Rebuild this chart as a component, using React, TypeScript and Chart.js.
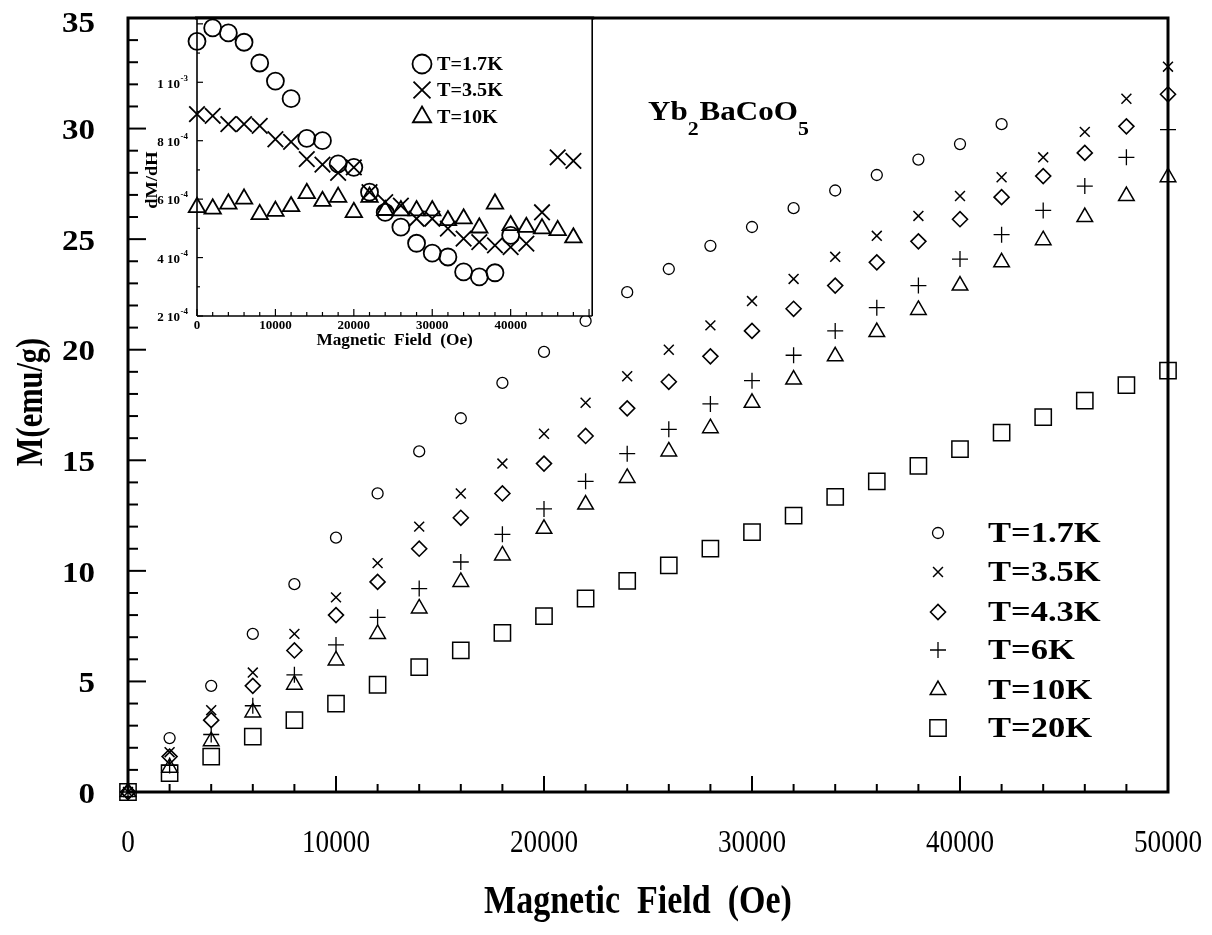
import React, { useEffect, useRef } from "react";
import { Chart, registerables } from "chart.js";
import { drawPoint } from "chart.js/helpers";

Chart.register(...registerables);

// ---------------- main plot data ----------------
const FIELD = [0, 2000, 4000, 6000, 8000, 10000, 12000, 14000, 16000, 18000, 20000, 22000, 24000, 26000, 28000, 30000, 32000, 34000, 36000, 38000, 40000, 42000, 44000, 46000, 48000, 50000];

const M_1_7K = [0, 2.44, 4.8, 7.15, 9.4, 11.5, 13.5, 15.4, 16.9, 18.5, 19.9, 21.3, 22.6, 23.65, 24.7, 25.55, 26.4, 27.2, 27.9, 28.6, 29.3, 30.2];
const M_3_5K = [0, 1.8, 3.7, 5.4, 7.15, 8.8, 10.35, 12.0, 13.5, 14.85, 16.2, 17.6, 18.8, 20.0, 21.1, 22.2, 23.2, 24.2, 25.15, 26.05, 26.95, 27.8, 28.7, 29.85, 31.35, 32.8];
const M_4_3K = [0, 1.6, 3.25, 4.8, 6.4, 8.0, 9.5, 11.0, 12.4, 13.5, 14.85, 16.1, 17.35, 18.55, 19.7, 20.85, 21.85, 22.9, 23.95, 24.9, 25.9, 26.9, 27.85, 28.9, 30.1, 31.55];
const M_6K = [0, 1.2, 2.6, 3.9, 5.3, 6.65, 7.9, 9.2, 10.4, 11.65, 12.8, 14.05, 15.3, 16.4, 17.55, 18.6, 19.75, 20.85, 21.9, 22.9, 24.1, 25.2, 26.3, 27.4, 28.7, 29.95];
const M_10K = [0, 1.1, 2.3, 3.6, 4.85, 5.95, 7.15, 8.3, 9.5, 10.7, 11.9, 13.0, 14.2, 15.4, 16.45, 17.6, 18.65, 19.7, 20.8, 21.8, 22.9, 23.95, 24.95, 26.0, 26.95, 27.8];
const M_20K = [0, 0.85, 1.6, 2.5, 3.25, 4.0, 4.85, 5.65, 6.4, 7.2, 7.95, 8.75, 9.55, 10.25, 11.0, 11.75, 12.5, 13.35, 14.05, 14.75, 15.5, 16.25, 16.95, 17.7, 18.4, 19.05];

const MAIN_LABELS = ["T=1.7K", "T=3.5K", "T=4.3K", "T=6K", "T=10K", "T=20K"];
const MAIN_X_TICKS = [0, 10000, 20000, 30000, 40000, 50000];
const MAIN_Y_TICKS = [0, 5, 10, 15, 20, 25, 30, 35];

// ---------------- inset data ----------------
const INSET_FIELD = [0, 2000, 4000, 6000, 8000, 10000, 12000, 14000, 16000, 18000, 20000, 22000, 24000, 26000, 28000, 30000, 32000, 34000, 36000, 38000, 40000, 42000, 44000, 46000, 48000];

const DMDH_1_7K = [1.14e-3, 1.186e-3, 1.169e-3, 1.137e-3, 1.066e-3, 1.004e-3, 0.944e-3, 0.808e-3, 0.8e-3, 0.721e-3, 0.709e-3, 0.624e-3, 0.555e-3, 0.504e-3, 0.449e-3, 0.415e-3, 0.402e-3, 0.351e-3, 0.334e-3, 0.348e-3, 0.476e-3];
const DMDH_3_5K = [0.891e-3, 0.885e-3, 0.857e-3, 0.857e-3, 0.851e-3, 0.805e-3, 0.796e-3, 0.737e-3, 0.718e-3, 0.69e-3, 0.709e-3, 0.624e-3, 0.59e-3, 0.578e-3, 0.533e-3, 0.533e-3, 0.499e-3, 0.465e-3, 0.453e-3, 0.442e-3, 0.436e-3, 0.448e-3, 0.555e-3, 0.743e-3, 0.731e-3];
const DMDH_10K = [0.572e-3, 0.567e-3, 0.584e-3, 0.601e-3, 0.548e-3, 0.559e-3, 0.575e-3, 0.62e-3, 0.593e-3, 0.607e-3, 0.555e-3, 0.607e-3, 0.562e-3, 0.561e-3, 0.561e-3, 0.561e-3, 0.527e-3, 0.533e-3, 0.502e-3, 0.584e-3, 0.51e-3, 0.504e-3, 0.499e-3, 0.493e-3, 0.468e-3];

const INSET_LABELS = ["T=1.7K", "T=3.5K", "T=10K"];
const INSET_X_TICKS = [0, 10000, 20000, 30000, 40000];
const INSET_Y_TICKS = [2e-4, 4e-4, 6e-4, 8e-4, 1e-3];

// ---------------- styles ----------------
const SERIF = "'Liberation Serif', 'Times New Roman', serif";

const MAIN_STYLES = [
  { pointStyle: "circle", radius: 5.5, width: 1.3 },
  { pointStyle: "crossRot", radius: 7, width: 1.5 },
  { pointStyle: "rectRot", radius: 7.5, width: 1.6 },
  { pointStyle: "cross", radius: 8, width: 1.3 },
  { pointStyle: "triangle", radius: 9, width: 1.5 },
  { pointStyle: "rect", radius: 11.5, width: 1.5 },
];
const INSET_STYLES = [
  { pointStyle: "circle", radius: 8.5, width: 1.8 },
  { pointStyle: "crossRot", radius: 11, width: 1.8 },
  { pointStyle: "triangle", radius: 9.5, width: 1.8 },
];

type TextOpts = { size: number; bold?: boolean; sx?: number; align?: CanvasTextAlign; baseline?: CanvasTextBaseline; rotate?: number };

function drawText(ctx: CanvasRenderingContext2D, s: string, x: number, y: number, o: TextOpts) {
  ctx.save();
  ctx.translate(x, y);
  if (o.rotate) ctx.rotate(o.rotate);
  ctx.scale(o.sx ?? 1, 1);
  ctx.font = `${o.bold ? "bold " : ""}${o.size}px ${SERIF}`;
  ctx.textAlign = o.align ?? "center";
  ctx.textBaseline = o.baseline ?? "middle";
  ctx.fillStyle = "#000";
  ctx.fillText(s, 0, 0);
  ctx.restore();
}

function textWidth(ctx: CanvasRenderingContext2D, s: string, size: number, bold: boolean, sx: number) {
  ctx.save();
  ctx.font = `${bold ? "bold " : ""}${size}px ${SERIF}`;
  const w = ctx.measureText(s).width * sx;
  ctx.restore();
  return w;
}

function line(ctx: CanvasRenderingContext2D, x1: number, y1: number, x2: number, y2: number) {
  ctx.beginPath();
  ctx.moveTo(x1, y1);
  ctx.lineTo(x2, y2);
  ctx.stroke();
}

function marker(ctx: CanvasRenderingContext2D, st: { pointStyle: string; radius: number; width: number }, x: number, y: number) {
  ctx.save();
  ctx.strokeStyle = "#000";
  ctx.fillStyle = "rgba(0,0,0,0)";
  ctx.lineWidth = st.width;
  drawPoint(ctx, { pointStyle: st.pointStyle as any, radius: st.radius, rotation: 0, borderWidth: st.width } as any, x, y);
  ctx.restore();
}

const mainDecor = {
  id: "mainDecor",
  afterDraw(chart: any) {
    const { ctx, chartArea: a } = chart;
    const xs = chart.scales.x;
    const ys = chart.scales.y;
    ctx.save();
    ctx.strokeStyle = "#000";
    ctx.lineCap = "butt";
    // inward tick marks
    ctx.lineWidth = 2;
    for (let v = 0; v <= 35; v += 1) {
      const py = ys.getPixelForValue(v);
      line(ctx, a.left, py, a.left + (v % 5 === 0 ? 18 : 10), py);
    }
    for (let v = 0; v <= 50000; v += 2000) {
      const px = xs.getPixelForValue(v);
      line(ctx, px, a.bottom, px, a.bottom - (v % 10000 === 0 ? 16 : 8));
    }
    // frame
    ctx.lineWidth = 3;
    ctx.strokeRect(a.left, a.top, a.right - a.left, a.bottom - a.top);

    // tick labels
    ys.ticks.forEach((t: any) => {
      const dy = t.value === 35 ? 6 : 3;
      drawText(ctx, String(t.value), 95, ys.getPixelForValue(t.value) + dy, { size: 30, bold: true, sx: 1.1, align: "right" });
    });
    xs.ticks.forEach((t: any) => {
      drawText(ctx, String(t.value), xs.getPixelForValue(t.value), 844, { size: 32, sx: 0.85 });
    });
    // axis titles
    drawText(ctx, "Magnetic  Field  (Oe)", 638, 903, { size: 40, bold: true, sx: 0.85 });
    drawText(ctx, "M(emu/g)", 32, 402, { size: 38, bold: true, sx: 0.8, rotate: -Math.PI / 2 });

    // formula Yb2BaCoO5
    const parts: [string, boolean][] = [["Yb", false], ["2", true], ["BaCoO", false], ["5", true]];
    let cx = 648;
    const sx = 1.15;
    parts.forEach(([s, sub]) => {
      const size = sub ? 19 : 27;
      drawText(ctx, s, cx, sub ? 135 : 120, { size, bold: true, sx, align: "left", baseline: "alphabetic" });
      cx += textWidth(ctx, s, size, true, sx) + (sub ? 1 : 0);
    });

    // legend
    const rows = [533, 572, 612, 650, 690, 728];
    chart.data.datasets.forEach((ds: any, i: number) => {
      marker(ctx, MAIN_STYLES[i], 938, rows[i]);
      drawText(ctx, ds.label, 988, rows[i] + 1, { size: 30, bold: true, sx: 1.15, align: "left" });
    });
    ctx.restore();
  },
};

const insetDecor = {
  id: "insetDecor",
  beforeDraw(chart: any) {
    const { ctx, chartArea: a } = chart;
    ctx.save();
    ctx.fillStyle = "#fff";
    ctx.fillRect(a.left, a.top, a.right - a.left, a.bottom - a.top);
    ctx.restore();
  },
  afterDraw(chart: any) {
    const { ctx, chartArea: a } = chart;
    const xs = chart.scales.x;
    const ys = chart.scales.y;
    ctx.save();
    ctx.strokeStyle = "#000";
    ctx.lineWidth = 1.2;
    for (let i = 2; i <= 12; i++) {
      const py = ys.getPixelForValue(i * 1e-4);
      line(ctx, a.left, py, a.left + (i % 2 === 0 ? 6 : 3), py);
    }
    for (let v = 0; v <= 50000; v += 2000) {
      const px = xs.getPixelForValue(v);
      line(ctx, px, a.bottom, px, a.bottom - (v % 10000 === 0 ? 7 : 4));
    }
    // frame
    ctx.lineWidth = 1.6;
    line(ctx, a.left, a.top, a.left, a.bottom);
    line(ctx, a.left, a.bottom, a.right, a.bottom);
    line(ctx, a.right, a.top, a.right, a.bottom);
    ctx.lineWidth = 3;
    line(ctx, a.left - 2, a.top, a.right + 2, a.top);

    // y labels "m 10^e"
    const RX = 58;
    ys.ticks.forEach((t: any) => {
      const v = t.value;
      const e = Math.floor(Math.log10(v) + 1e-9);
      const m = Math.round(v / Math.pow(10, e));
      const py = ys.getPixelForValue(v);
      const sup = String(e);
      const supW = textWidth(ctx, sup, 9, true, 1);
      drawText(ctx, sup, RX, py - 4, { size: 9, bold: true, align: "right" });
      drawText(ctx, `${m} 10`, RX - supW - 0.5, py + 2, { size: 13, bold: true, align: "right" });
    });
    xs.ticks.forEach((t: any) => {
      drawText(ctx, String(t.value), xs.getPixelForValue(t.value), 326, { size: 13, bold: true });
    });
    drawText(ctx, "Magnetic  Field  (Oe)", (a.left + a.right) / 2, 341, { size: 16, bold: true, sx: 1.08 });
    drawText(ctx, "dM/dH", 23, 180, { size: 16, bold: true, sx: 1.15, rotate: -Math.PI / 2 });

    // legend
    const rows = [64, 90, 117];
    chart.data.datasets.forEach((ds: any, i: number) => {
      marker(ctx, { ...INSET_STYLES[i], radius: INSET_STYLES[i].radius + 1 }, 292, rows[i]);
      drawText(ctx, ds.label, 307, rows[i] + 1, { size: 18, bold: true, sx: 1.12, align: "left" });
    });
    ctx.restore();
  },
};

function makeDataset(label: string, xs: number[], ys: number[], st: { pointStyle: string; radius: number; width: number }) {
  return {
    label,
    data: ys.map((y, i) => ({ x: xs[i], y })),
    showLine: false,
    pointStyle: st.pointStyle,
    pointRadius: st.radius,
    pointHoverRadius: st.radius,
    pointBorderWidth: st.width,
    pointBorderColor: "#000",
    pointBackgroundColor: "rgba(0,0,0,0)",
    clip: false,
  };
}

const fixedTicks = (values: number[]) => (scale: any) => {
  scale.ticks = values.map((v) => ({ value: v }));
};

export default function App() {
  const mainRef = useRef<HTMLCanvasElement>(null);
  const insetRef = useRef<HTMLCanvasElement>(null);

  useEffect(() => {
    const mainSeries = [M_1_7K, M_3_5K, M_4_3K, M_6K, M_10K, M_20K];
    const main = new Chart(mainRef.current!, {
      type: "scatter",
      data: {
        datasets: mainSeries.map((s, i) => makeDataset(MAIN_LABELS[i], FIELD, s, MAIN_STYLES[i])) as any,
      },
      options: {
        responsive: false,
        animation: false,
        devicePixelRatio: 1,
        events: [],
        layout: { padding: { left: 0, top: 18, right: 44, bottom: 0 } },
        plugins: { legend: { display: false }, tooltip: { enabled: false } },
        scales: {
          x: {
            type: "linear",
            min: 0,
            max: 50000,
            ticks: { display: false },
            grid: { display: false },
            border: { display: false },
            afterBuildTicks: fixedTicks(MAIN_X_TICKS),
            afterFit: (s: any) => { s.height = 143; },
          },
          y: {
            type: "linear",
            min: 0,
            max: 35,
            ticks: { display: false },
            grid: { display: false },
            border: { display: false },
            afterBuildTicks: fixedTicks(MAIN_Y_TICKS),
            afterFit: (s: any) => { s.width = 128; },
          },
        },
      } as any,
      plugins: [mainDecor],
    });

    const insetSeries = [DMDH_1_7K, DMDH_3_5K, DMDH_10K];
    const inset = new Chart(insetRef.current!, {
      type: "scatter",
      data: {
        datasets: insetSeries.map((s, i) => makeDataset(INSET_LABELS[i], INSET_FIELD, s, INSET_STYLES[i])) as any,
      },
      options: {
        responsive: false,
        animation: false,
        devicePixelRatio: 1,
        events: [],
        layout: { padding: { left: 0, top: 18, right: 10, bottom: 0 } },
        plugins: { legend: { display: false }, tooltip: { enabled: false } },
        scales: {
          x: {
            type: "linear",
            min: 0,
            max: 50400,
            ticks: { display: false },
            grid: { display: false },
            border: { display: false },
            afterBuildTicks: fixedTicks(INSET_X_TICKS),
            afterFit: (s: any) => { s.height = 44; },
          },
          y: {
            type: "linear",
            min: 2e-4,
            max: 1.22e-3,
            ticks: { display: false },
            grid: { display: false },
            border: { display: false },
            afterBuildTicks: fixedTicks(INSET_Y_TICKS),
            afterFit: (s: any) => { s.width = 67; },
          },
        },
      } as any,
      plugins: [insetDecor],
    });

    return () => {
      main.destroy();
      inset.destroy();
    };
  }, []);

  return (
    <div style={{ position: "fixed", left: 0, top: 0, width: 1212, height: 935, background: "#fff" }}>
      <canvas ref={mainRef} width={1212} height={935} style={{ position: "absolute", left: 0, top: 0, width: 1212, height: 935 }} />
      <canvas ref={insetRef} width={475} height={360} style={{ position: "absolute", left: 130, top: 0, width: 475, height: 360 }} />
    </div>
  );
}
